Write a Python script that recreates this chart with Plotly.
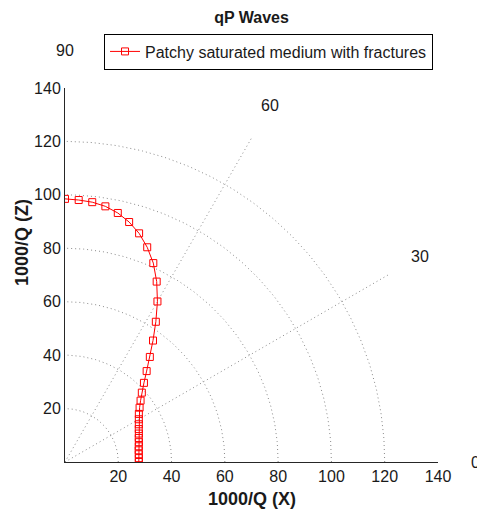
import numpy as np
import plotly.graph_objects as go

# Data: propagation angle (deg) and 1000/Q
angles_deg = [0, 3, 6, 9, 12, 15, 18, 21, 24, 27, 30, 33, 36, 39, 42, 45,
              48, 51, 54, 57, 60, 63, 66, 69, 72, 75, 78, 81, 84, 87, 90]
inv_q = [27.7, 27.75, 27.85, 28.0, 28.3, 28.7, 29.1, 29.7, 30.3, 31.1, 32.0,
         33.05, 34.6, 36.5, 38.8, 41.9, 45.8, 50.6, 56.2, 62.6, 69.4, 75.8,
         81.5, 86.1, 90.0, 93.0, 95.3, 96.9, 97.8, 98.2, 98.5]
series_name = "Patchy saturated medium with fractures"

grid_radii = [20, 40, 60, 80, 100, 120]
spoke_angles = [30, 60]
spoke_length = 140
angle_labels = [0, 30, 60, 90]
label_radius = 154
tick_vals = [20, 40, 60, 80, 100, 120, 140]
tick_text = ["20", "40", "60", "80", "100", "120", "140"]

fig = go.Figure()
grid_style = dict(color="#8a8a8a", width=1, dash="1px,3px")

t = np.radians(np.linspace(0, 90, 181))
for r in grid_radii:
    fig.add_trace(go.Scatter(x=r * np.cos(t), y=r * np.sin(t), mode="lines",
                             line=grid_style, showlegend=False, hoverinfo="skip"))
for a in spoke_angles:
    ar = np.radians(a)
    fig.add_trace(go.Scatter(x=[0, spoke_length * np.cos(ar)], y=[0, spoke_length * np.sin(ar)],
                             mode="lines", line=grid_style, showlegend=False, hoverinfo="skip"))

th = np.radians(angles_deg)
rv = np.array(inv_q)
fig.add_trace(go.Scatter(x=rv * np.cos(th), y=rv * np.sin(th), mode="lines+markers",
                         name=series_name,
                         line=dict(color="#ff0000", width=1),
                         marker=dict(symbol="square-open", size=7, color="#ff0000",
                                     line=dict(width=1, color="#ff0000"))))

annotations = []
for a in angle_labels:
    ar = np.radians(a)
    annotations.append(dict(x=label_radius * np.cos(ar) / 140, y=label_radius * np.sin(ar) / 140,
                            xref="x domain", yref="y domain", text=str(a), showarrow=False,
                            xanchor="center", yanchor="middle",
                            font=dict(size=16, color="#1a1a1a")))
annotations.append(dict(x=0.5, y=-0.0997, xref="x domain", yref="y domain",
                        text="<b>1000/Q (X)</b>", showarrow=False,
                        xanchor="center", yanchor="middle", font=dict(size=18, color="#1a1a1a")))
annotations.append(dict(x=-0.115, y=0.586, xref="x domain", yref="y domain",
                        text="<b>1000/Q (Z)</b>", showarrow=False, textangle=-90,
                        xanchor="center", yanchor="middle", font=dict(size=18, color="#1a1a1a")))

axis_common = dict(range=[0, 140], showgrid=False, zeroline=False, showline=True,
                   linecolor="#262626", linewidth=1, ticks="", tickvals=tick_vals,
                   ticktext=tick_text, tickfont=dict(size=16, color="#1a1a1a"))

W, H = 477, 505
fig.update_layout(
    width=W, height=H,
    margin=dict(l=57, r=47, t=80, b=51),
    paper_bgcolor="white", plot_bgcolor="white",
    font=dict(family="Liberation Sans, Arial, sans-serif", color="#1a1a1a"),
    title=dict(text="<b>qP Waves</b>", x=0.5, xref="paper", y=1 - 9 / H, yref="container",
               xanchor="center", yanchor="middle", font=dict(size=16)),
    xaxis=dict(**axis_common),
    yaxis=dict(**axis_common),
    legend=dict(x=0.1046, y=1.1457, xanchor="left", yanchor="top",
                bordercolor="#000000", borderwidth=1, bgcolor="white",
                font=dict(size=16)),
    annotations=annotations,
    showlegend=True,
)

fig.write_html("out.html")
